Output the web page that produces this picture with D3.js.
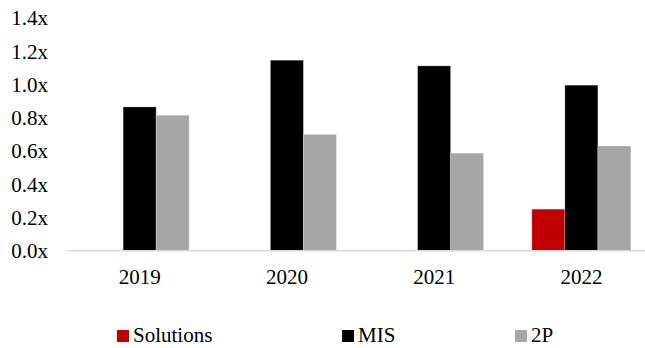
<!DOCTYPE html>
<html>
<head>
<meta charset="utf-8">
<script src="https://cdn.jsdelivr.net/npm/d3@7"></script>
<style>
  html, body { margin: 0; padding: 0; background: #fff; }
  svg { display: block; }
  svg text { font-family: "Liberation Serif", "Times New Roman", serif; fill: #000; }
</style>
</head>
<body>
<svg id="chart" width="645" height="348"></svg>
<script>
// Multiples by year, one array per series
const years = ["2019", "2020", "2021", "2022"];
const seriesNames = ["Solutions", "MIS", "2P"];
const solutions = [null, null, null, 0.25];
const mis = [0.865, 1.146, 1.112, 0.996];
const twoP = [0.815, 0.70, 0.587, 0.63];
const yTicks = [0, 0.2, 0.4, 0.6, 0.8, 1.0, 1.2, 1.4];
const colors = ["#C00000", "#000000", "#A6A6A6"];

const seriesValues = [solutions, mis, twoP];
const FONT = "'Liberation Serif', 'Times New Roman', serif";

const svg = d3.select("#chart");
const W = 645;
const plotLeft = 66, plotRight = 655, plotTop = 18;
const baseY = 250.7;

// The plot area runs past the right edge of the canvas
const x = d3.scaleBand()
  .domain(years)
  .range([plotLeft, plotRight])
  .paddingInner(0)
  .paddingOuter(0);

const y = d3.scaleLinear()
  .domain([0, 1.4])
  .range([baseY, plotTop]);

// Bars grouped inside each year band (gap width ~146%)
const gapRatio = 1.46;
const groupWidth = x.bandwidth() * 3 / (3 + gapRatio);
const x1 = d3.scaleBand()
  .domain(seriesNames)
  .range([0, groupWidth]);

const rows = [];
years.forEach((yr, i) => {
  seriesNames.forEach((s, j) => {
    const v = seriesValues[j][i];
    if (v != null) rows.push({ year: yr, series: s, value: v, color: colors[j] });
  });
});

svg.append("g")
  .selectAll("rect")
  .data(rows)
  .join("rect")
  .attr("x", d => x(d.year) + (x.bandwidth() - groupWidth) / 2 + x1(d.series))
  .attr("y", d => y(d.value))
  .attr("width", x1.bandwidth())
  .attr("height", d => y(0) - y(d.value))
  .attr("fill", d => d.color)
  .attr("stroke", "#ffffff")
  .attr("stroke-opacity", 0.35)
  .attr("stroke-width", 0.75);

// Baseline
svg.append("line")
  .attr("x1", plotLeft + 1).attr("x2", W)
  .attr("y1", y(0)).attr("y2", y(0))
  .attr("stroke", "#D9D9D9")
  .attr("stroke-width", 1.5);

// Y axis labels
const yAxis = d3.axisLeft(y)
  .tickValues(yTicks)
  .tickFormat(d => d3.format(".1f")(d) + "x")
  .tickSize(0)
  .tickPadding(0);
const gy = svg.append("g")
  .attr("transform", "translate(48,0)")
  .call(yAxis)
  .attr("font-family", FONT);
gy.select(".domain").remove();
gy.selectAll("text")
  .attr("font-family", FONT)
  .attr("font-size", 21)
  .attr("fill", "#000")
  .attr("dy", "0.33em");

// X axis labels
const xAxis = d3.axisBottom(x).tickSize(0).tickPadding(0);
const gx = svg.append("g")
  .attr("transform", `translate(0,${y(0)})`)
  .call(xAxis)
  .attr("font-family", FONT);
gx.select(".domain").remove();
gx.selectAll("text")
  .attr("font-family", FONT)
  .attr("font-size", 21)
  .attr("fill", "#000")
  .attr("dy", null)
  .attr("y", 33);

// Legend
const legendX = [117, 342, 515];
const legend = svg.append("g").attr("font-family", FONT);
seriesNames.forEach((name, i) => {
  const g = legend.append("g").attr("transform", `translate(${legendX[i]},330)`);
  g.append("rect")
    .attr("width", 12).attr("height", 12)
    .attr("fill", colors[i]);
  g.append("text")
    .attr("x", 16).attr("y", 12)
    .attr("font-family", FONT)
    .attr("font-size", 21)
    .text(name);
});
</script>
</body>
</html>
